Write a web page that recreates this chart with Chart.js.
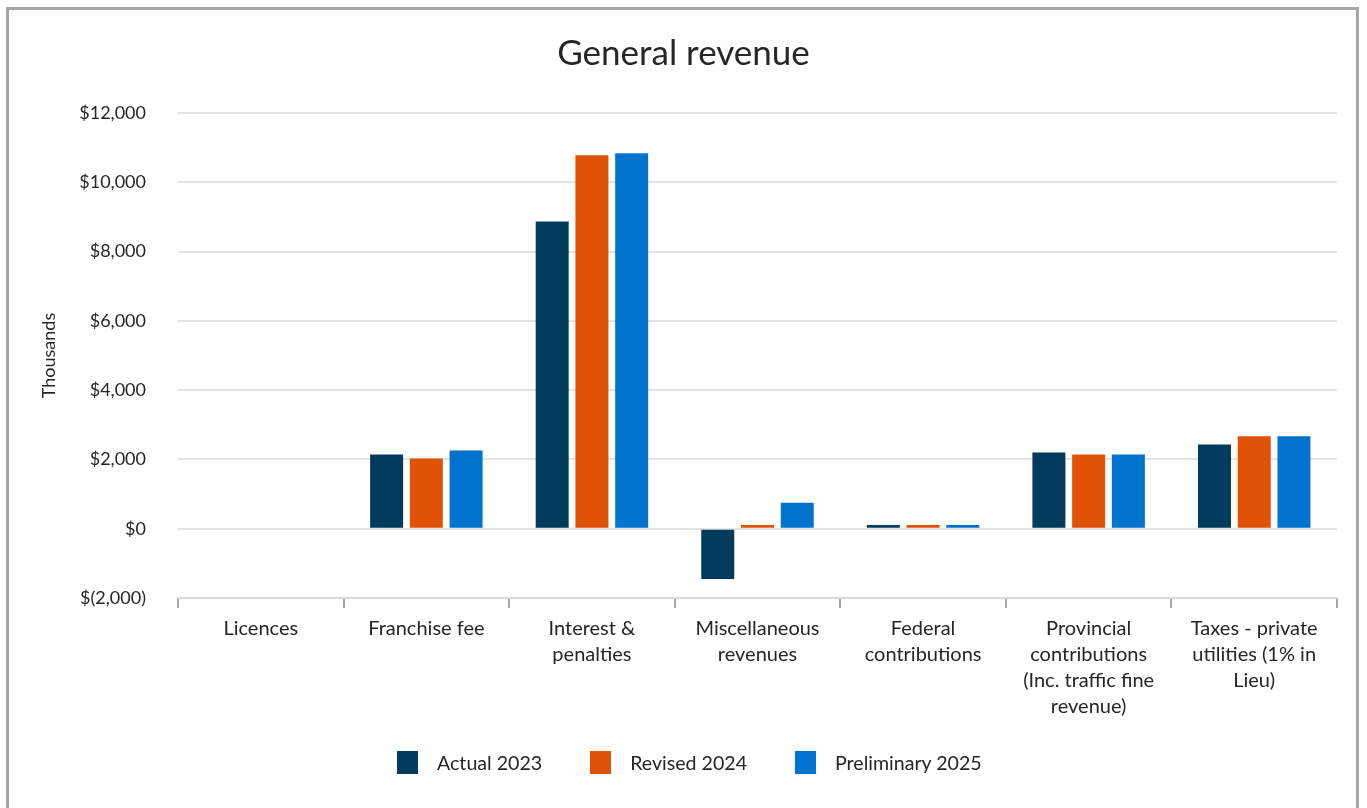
<!DOCTYPE html>
<html>
<head>
<meta charset="utf-8">
<script src="https://cdn.jsdelivr.net/npm/chart.js@4.4.1/dist/chart.umd.min.js"></script>
<style>
  body { margin: 0; background: #fff; font-family: Lato, "Open Sans", sans-serif; }
  #frame {
    position: absolute; left: 6px; top: 7px; width: 1353px; height: 820px;
    border: 3px solid #a6a6a6; box-sizing: border-box;
  }
  #wrap { position: absolute; left: 0; top: 0; width: 1367px; height: 808px; }
  #legend {
    position: absolute; left: 397px; top: 751px; display: flex; align-items: center;
    font-size: 19.6px; color: #262626;
  }
  #legend .item { display: flex; align-items: center; margin-right: 48px; }
  #legend .item:last-child { margin-right: 0; }
  #legend .box { width: 21px; height: 23px; margin-right: 19px; }
</style>
</head>
<body>
<div id="frame"></div>
<div id="wrap"><canvas id="revenue-chart"></canvas></div>
<div id="legend"></div>
<script>
// categories and series (thousands of dollars)
const categories = [
  "Licences",
  "Franchise fee",
  ["Interest &", "penalties"],
  ["Miscellaneous", "revenues"],
  ["Federal", "contributions"],
  ["Provincial", "contributions", "(Inc. traffic fine", "revenue)"],
  ["Taxes - private", "utilities (1% in", "Lieu)"],
];
const actual2023 = [0, 2140, 8870, -1450, 110, 2200, 2430];
const revised2024 = [0, 2030, 10780, 110, 110, 2140, 2670];
const preliminary2025 = [0, 2260, 10840, 750, 110, 2140, 2670];

const seriesNames = ["Actual 2023", "Revised 2024", "Preliminary 2025"];
const seriesColors = ["#003a5d", "#e05206", "#0073cf"];

const yTicks = [-2000, 0, 2000, 4000, 6000, 8000, 10000, 12000];

const canvas = document.getElementById("revenue-chart");
canvas.width = 1367;
canvas.height = 808;

const fontFamily = "Lato, 'Open Sans', sans-serif";

function money(v) {
  const s = Math.abs(v).toLocaleString("en-US");
  return v < 0 ? "$(" + s + ")" : "$" + s;
}

const seriesData = [actual2023, revised2024, preliminary2025];

// centre the title over the whole canvas, not just the padded layout box
const titleAcrossCanvas = {
  id: "titleAcrossCanvas",
  afterLayout(chart) {
    if (chart.titleBlock) {
      chart.titleBlock.left = 0;
      chart.titleBlock.right = chart.width;
    }
  },
};

const revenueChart = new Chart(canvas, {
  type: "bar",
  data: {
    labels: categories,
    datasets: seriesData.map((d, i) => ({
      label: seriesNames[i],
      data: d,
      backgroundColor: seriesColors[i],
      borderWidth: 0,
      categoryPercentage: 0.72,
      barPercentage: 0.83,
    })),
  },
  options: {
    responsive: false,
    animation: false,
    layout: {
      padding: { left: 0, right: 30, top: 0, bottom: 0 },
    },
    scales: {
      x: {
        grid: {
          offset: true,
          drawOnChartArea: false,
          drawTicks: true,
          tickLength: 10,
          color: "#a6a6a6",
          lineWidth: 2,
        },
        border: { display: true, color: "#d9d9d9", width: 2 },
        ticks: {
          color: "#262626",
          padding: 8,
          maxRotation: 0,
          autoSkip: false,
          font: { family: fontFamily, size: 20, lineHeight: 1.29 },
        },
        afterFit(scale) {
          scale.height = 210;
        },
      },
      y: {
        min: -2000,
        max: 12000,
        afterBuildTicks(scale) {
          scale.ticks = yTicks.map((v) => ({ value: v }));
        },
        grid: {
          color: "#e3e3e3",
          lineWidth: 2,
          drawTicks: false,
        },
        border: { display: false },
        ticks: {
          color: "#262626",
          padding: 32,
          font: { family: fontFamily, size: 18 },
          callback: (v) => money(v),
        },
        title: {
          display: true,
          text: "Thousands",
          color: "#262626",
          font: { family: fontFamily, size: 18 },
          padding: { top: 38, bottom: 0 },
        },
        afterFit(scale) {
          scale.width = 178;
        },
      },
    },
    plugins: {
      legend: { display: false },
      tooltip: { enabled: false },
      title: {
        display: true,
        text: "General revenue",
        color: "#262626",
        font: { family: fontFamily, size: 35, weight: "normal", lineHeight: 1.2 },
        padding: { top: 33, bottom: 38 },
      },
    },
  },
  plugins: [titleAcrossCanvas],
});

// legend built from the same series lists
const legendEl = document.getElementById("legend");
seriesNames.forEach((name, i) => {
  const item = document.createElement("div");
  item.className = "item";
  const box = document.createElement("div");
  box.className = "box";
  box.style.background = seriesColors[i];
  const label = document.createElement("span");
  label.textContent = name;
  item.appendChild(box);
  item.appendChild(label);
  legendEl.appendChild(item);
});
</script>
</body>
</html>
